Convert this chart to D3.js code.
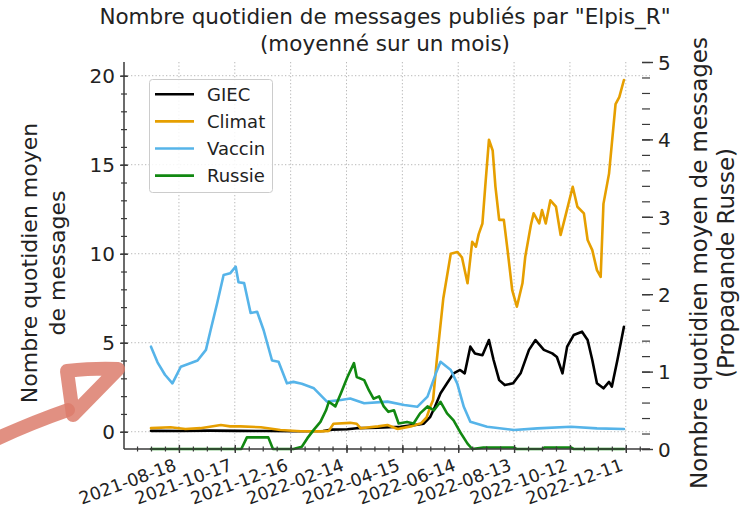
<!DOCTYPE html>
<html><head><meta charset="utf-8">
<script src="https://cdn.jsdelivr.net/npm/d3@7"></script>
<style>body{margin:0;background:#fff}</style>
</head><body><svg id="chart" width="740" height="523"></svg>
<script>
// ---------- data ----------
const titleLines = ["Nombre quotidien de messages publiés par \"Elpis_R\"", "(moyenné sur un mois)"];
const leftLabelLines = ["Nombre quotidien moyen", "de messages"];
const rightLabelLines = ["Nombre quotidien moyen de messages", "(Propagande Russe)"];
const seriesNames = ["GIEC", "Climat", "Vaccin", "Russie"];
const seriesColors = ["#000000", "#E69F00", "#56B4E9", "#118811"];
const xTickLabels = ["2021-08-18","2021-10-17","2021-12-16","2022-02-14","2022-04-15","2022-06-14","2022-08-13","2022-10-12","2022-12-11"];
const leftTicks = [0, 5, 10, 15, 20];
const rightTicks = [0, 1, 2, 3, 4, 5];

const giecDates = ["2021-07-19","2021-08-20","2021-09-20","2021-10-20","2021-11-20","2021-12-20","2022-01-20","2022-01-29","2022-02-15","2022-02-25","2022-03-20","2022-04-13","2022-05-01","2022-05-08","2022-05-15","2022-05-20","2022-05-26","2022-06-02","2022-06-09","2022-06-16","2022-06-21","2022-06-27","2022-07-02","2022-07-10","2022-07-17","2022-07-22","2022-07-28","2022-08-03","2022-08-12","2022-08-20","2022-08-29","2022-09-05","2022-09-14","2022-09-23","2022-09-28","2022-10-04","2022-10-09","2022-10-16","2022-10-25","2022-10-31","2022-11-05","2022-11-10","2022-11-17","2022-11-23","2022-11-26","2022-12-02","2022-12-09"];
const giecValues = [0.05,0.04,0.06,0.05,0.04,0.03,0.04,0.12,0.14,0.2,0.22,0.28,0.4,0.45,0.84,1.4,2.16,2.72,3.28,3.47,3.28,4.78,4.4,4.3,5.15,4.03,2.9,2.62,2.72,3.28,4.6,5.15,4.6,4.4,4.2,3.28,4.78,5.43,5.62,5.15,4.03,2.72,2.44,2.8,2.53,4.03,5.9];

const climatDates = ["2021-07-19","2021-08-09","2021-08-25","2021-09-10","2021-10-02","2021-10-12","2021-10-23","2021-11-14","2021-12-05","2021-12-27","2022-01-17","2022-01-26","2022-01-31","2022-02-18","2022-02-25","2022-03-01","2022-03-20","2022-03-30","2022-04-10","2022-04-24","2022-05-05","2022-05-11","2022-05-15","2022-05-18","2022-05-22","2022-05-29","2022-06-06","2022-06-13","2022-06-18","2022-06-24","2022-06-29","2022-07-03","2022-07-06","2022-07-10","2022-07-13","2022-07-17","2022-07-21","2022-07-24","2022-07-28","2022-08-02","2022-08-06","2022-08-11","2022-08-16","2022-08-22","2022-08-25","2022-08-31","2022-09-03","2022-09-09","2022-09-12","2022-09-16","2022-09-21","2022-09-27","2022-10-02","2022-10-07","2022-10-15","2022-10-20","2022-10-27","2022-10-31","2022-11-05","2022-11-10","2022-11-14","2022-11-17","2022-11-23","2022-11-30","2022-12-04","2022-12-09"];
const climatValues = [0.2,0.25,0.15,0.2,0.38,0.3,0.3,0.25,0.1,0.03,0.02,0.05,0.45,0.5,0.45,0.2,0.3,0.38,0.15,0.3,0.47,0.8,1.4,1.78,4.03,7.5,10.0,10.1,9.8,8.34,10.67,10.4,11.1,11.7,13.76,16.4,15.8,13.76,11.9,11.9,10.2,7.96,7.02,8.34,9.83,11.6,12.27,11.7,12.45,11.7,13.0,12.64,11.05,12.08,13.76,12.64,12.27,10.77,10.2,9.08,8.7,12.8,14.5,18.4,18.8,19.76];

const vaccinDates = ["2021-07-19","2021-07-26","2021-08-03","2021-08-11","2021-08-20","2021-08-28","2021-09-07","2021-09-16","2021-09-21","2021-09-28","2021-10-05","2021-10-12","2021-10-18","2021-10-21","2021-10-27","2021-11-03","2021-11-10","2021-11-17","2021-11-26","2021-12-03","2021-12-12","2021-12-19","2021-12-28","2022-01-10","2022-01-24","2022-02-08","2022-02-18","2022-03-05","2022-03-30","2022-04-17","2022-05-01","2022-05-12","2022-05-21","2022-05-26","2022-06-06","2022-06-13","2022-06-20","2022-06-27","2022-07-15","2022-08-13","2022-09-07","2022-10-13","2022-11-10","2022-12-09"];
const vaccinValues = [4.78,3.9,3.2,2.72,3.65,3.8,4.0,4.6,5.7,7.2,8.8,8.9,9.27,8.4,8.35,6.67,6.74,5.7,4.0,3.93,2.72,2.8,2.7,2.44,1.69,1.78,1.87,1.6,1.69,1.5,1.4,1.97,3.28,3.93,3.47,2.7,1.4,0.56,0.28,0.1,0.19,0.28,0.19,0.15];

const russieDates = ["2021-07-19","2021-10-24","2021-10-30","2021-11-22","2021-11-27","2021-12-19","2021-12-28","2022-01-03","2022-01-10","2022-01-17","2022-01-23","2022-01-26","2022-02-02","2022-02-08","2022-02-15","2022-02-22","2022-02-25","2022-03-05","2022-03-10","2022-03-15","2022-03-21","2022-03-26","2022-03-31","2022-04-06","2022-04-11","2022-04-20","2022-04-27","2022-05-04","2022-05-12","2022-05-19","2022-05-26","2022-06-02","2022-06-09","2022-06-16","2022-06-24","2022-06-29","2022-07-11","2022-08-12","2022-08-16","2022-09-12","2022-09-15","2022-10-13","2022-10-16","2022-12-09"];
const russieValues = [0,0,0.15,0.15,0,0,0.03,0.14,0.25,0.35,0.5,0.61,0.55,0.72,0.93,1.11,0.93,0.89,0.76,0.65,0.68,0.55,0.48,0.5,0.33,0.35,0.33,0.46,0.55,0.5,0.61,0.46,0.37,0.22,0.07,0,0.02,0.02,0,0,0.02,0.02,0,0];

// ---------- drawing ----------
const parse = d3.timeParse("%Y-%m-%d");
const fmt = d3.timeFormat("%Y-%m-%d");
const FONT = "DejaVu Sans, sans-serif";
const TXT = "#222";
const AX = "#3a3a3a";
const P = {left: 124, right: 650, top: 62, bottom: 449};

const svg = d3.select("#chart").attr("font-family", FONT);
svg.append("rect").attr("width", 740).attr("height", 523).attr("fill", "#fff");

const x = d3.scaleTime().domain([parse("2021-06-20"), parse("2023-01-06")]).range([P.left, P.right]);
const yL = d3.scaleLinear().domain([-0.97, 20.77]).range([P.bottom, P.top]);
const yR = d3.scaleLinear().domain([0, 5]).range([P.bottom, P.top]);

const xMajor = xTickLabels.map(parse);
const xMinor = d3.timeDay.every(1).range(parse("2021-06-19"), parse("2023-01-10"))
  .filter((d, i) => i % 15 === 0).filter(d => d >= x.domain()[0] && d <= x.domain()[1]);

// grid
const grid = svg.append("g").attr("stroke", "#b8b8b8").attr("stroke-width", 1).attr("stroke-dasharray", "1.3,2.2");
grid.selectAll(".gx").data(xMajor).join("line")
  .attr("x1", d => x(d)).attr("x2", d => x(d)).attr("y1", P.top).attr("y2", P.bottom);
grid.selectAll(".gy").data(leftTicks).join("line")
  .attr("x1", P.left).attr("x2", P.right).attr("y1", d => yL(d)).attr("y2", d => yL(d));

// series
const mk = (dates, vals) => dates.map((d, i) => ({date: parse(d), v: vals[i]}));
const series = [
  {data: mk(giecDates, giecValues), y: yL},
  {data: mk(climatDates, climatValues), y: yL},
  {data: mk(vaccinDates, vaccinValues), y: yL},
  {data: mk(russieDates, russieValues), y: yR}
];
series.forEach((s, i) => {
  svg.append("path").datum(s.data)
    .attr("fill", "none").attr("stroke", seriesColors[i]).attr("stroke-width", 2.6)
    .attr("stroke-linejoin", "round").attr("stroke-linecap", "round")
    .attr("d", d3.line().x(d => x(d.date)).y(d => s.y(d.v)));
});

// spines
svg.append("line").attr("x1", P.left).attr("x2", P.left).attr("y1", P.top).attr("y2", P.bottom).attr("stroke", AX).attr("stroke-width", 1.5);
svg.append("line").attr("x1", P.left).attr("x2", P.right).attr("y1", P.bottom).attr("y2", P.bottom).attr("stroke", AX).attr("stroke-width", 1.5);

// x axis
const gxMinor = svg.append("g").attr("transform", `translate(0,${P.bottom})`)
  .call(d3.axisBottom(x).tickValues(xMinor).tickFormat(""));
gxMinor.select(".domain").remove();
gxMinor.selectAll(".tick line").attr("y1", -2.5).attr("y2", 2.5).attr("stroke", AX).attr("stroke-width", 1.2);
const gx = svg.append("g").attr("transform", `translate(0,${P.bottom})`)
  .call(d3.axisBottom(x).tickValues(xMajor).tickFormat(fmt));
gx.select(".domain").remove();
gx.selectAll(".tick line").attr("y1", -4).attr("y2", 4).attr("stroke", AX).attr("stroke-width", 1.4);
gx.selectAll(".tick text").attr("x", 0).attr("y", 0).attr("dy", null)
  .attr("transform", "translate(-2,21) rotate(-20)")
  .attr("text-anchor", "end").attr("font-size", 17.5).attr("font-family", FONT).attr("fill", TXT);

// left axis
const gyMinor = svg.append("g").attr("transform", `translate(${P.left},0)`)
  .call(d3.axisLeft(yL).tickValues(d3.range(0, 21, 1)).tickFormat(""));
gyMinor.select(".domain").remove();
gyMinor.selectAll(".tick line").attr("x1", -3).attr("x2", 3).attr("stroke", AX).attr("stroke-width", 1.2);
const gy = svg.append("g").attr("transform", `translate(${P.left},0)`)
  .call(d3.axisLeft(yL).tickValues(leftTicks).tickFormat(d3.format("d")));
gy.select(".domain").remove();
gy.selectAll(".tick line").attr("x1", -4).attr("x2", 4).attr("stroke", AX).attr("stroke-width", 1.4);
gy.selectAll(".tick text").attr("x", -9).attr("dy", "0.36em").attr("font-size", 20).attr("font-family", FONT).attr("fill", TXT);

// right axis
const gyrMinor = svg.append("g").attr("transform", `translate(${P.right},0)`)
  .call(d3.axisRight(yR).tickValues(d3.range(0, 5.01, 0.2)).tickFormat(""));
gyrMinor.select(".domain").remove();
gyrMinor.selectAll(".tick line").attr("x1", -8).attr("x2", 0).attr("stroke", AX).attr("stroke-width", 1.2);
const gyr = svg.append("g").attr("transform", `translate(${P.right},0)`)
  .call(d3.axisRight(yR).tickValues(rightTicks).tickFormat(d3.format("d")));
gyr.select(".domain").remove();
gyr.selectAll(".tick line").attr("x1", -8).attr("x2", 3).attr("stroke", AX).attr("stroke-width", 1.4);
gyr.selectAll(".tick text").attr("x", 8).attr("dy", "0.36em").attr("font-size", 20).attr("font-family", FONT).attr("fill", TXT);

// title
svg.append("g").selectAll("text").data(titleLines).join("text")
  .attr("x", 385).attr("y", (d, i) => 24 + i * 27).attr("text-anchor", "middle")
  .attr("font-size", 21.5).attr("fill", TXT).text(d => d);

// axis labels
svg.append("g").selectAll("text").data(leftLabelLines).join("text")
  .attr("transform", (d, i) => `translate(${37 + i * 28},263) rotate(-90)`)
  .attr("text-anchor", "middle").attr("font-size", 22).attr("fill", TXT).text(d => d);
svg.append("g").selectAll("text").data(rightLabelLines).join("text")
  .attr("transform", (d, i) => `translate(${707 + i * 27},263) rotate(-90)`)
  .attr("text-anchor", "middle").attr("font-size", 23).attr("fill", TXT).text(d => d);

// legend
const lg = svg.append("g");
lg.append("rect").attr("x", 149.5).attr("y", 79.5).attr("width", 123).attr("height", 113).attr("rx", 3)
  .attr("fill", "#fff").attr("fill-opacity", 0.85).attr("stroke", "#cccccc").attr("stroke-width", 1);
seriesNames.forEach((n, i) => {
  const yy = 94.3 + i * 27.1;
  lg.append("line").attr("x1", 155).attr("x2", 194).attr("y1", yy).attr("y2", yy)
    .attr("stroke", seriesColors[i]).attr("stroke-width", 2.6);
  lg.append("text").attr("x", 207).attr("y", yy + 6.5).attr("font-size", 18).attr("fill", TXT).text(n);
});

// hand-drawn red arrow annotation
const arrow = svg.append("g").attr("fill", "none").attr("stroke", "#dc7c6c").attr("stroke-opacity", 0.85)
  .attr("stroke-width", 14).attr("stroke-linejoin", "round").attr("stroke-linecap", "round");
arrow.append("path").attr("d", "M-6,440 C20,428 45,418 68,410");
arrow.append("path").attr("d", "M67,371 C85,369 102,368 118,369 L73,415 Z");
</script>
</body></html>
